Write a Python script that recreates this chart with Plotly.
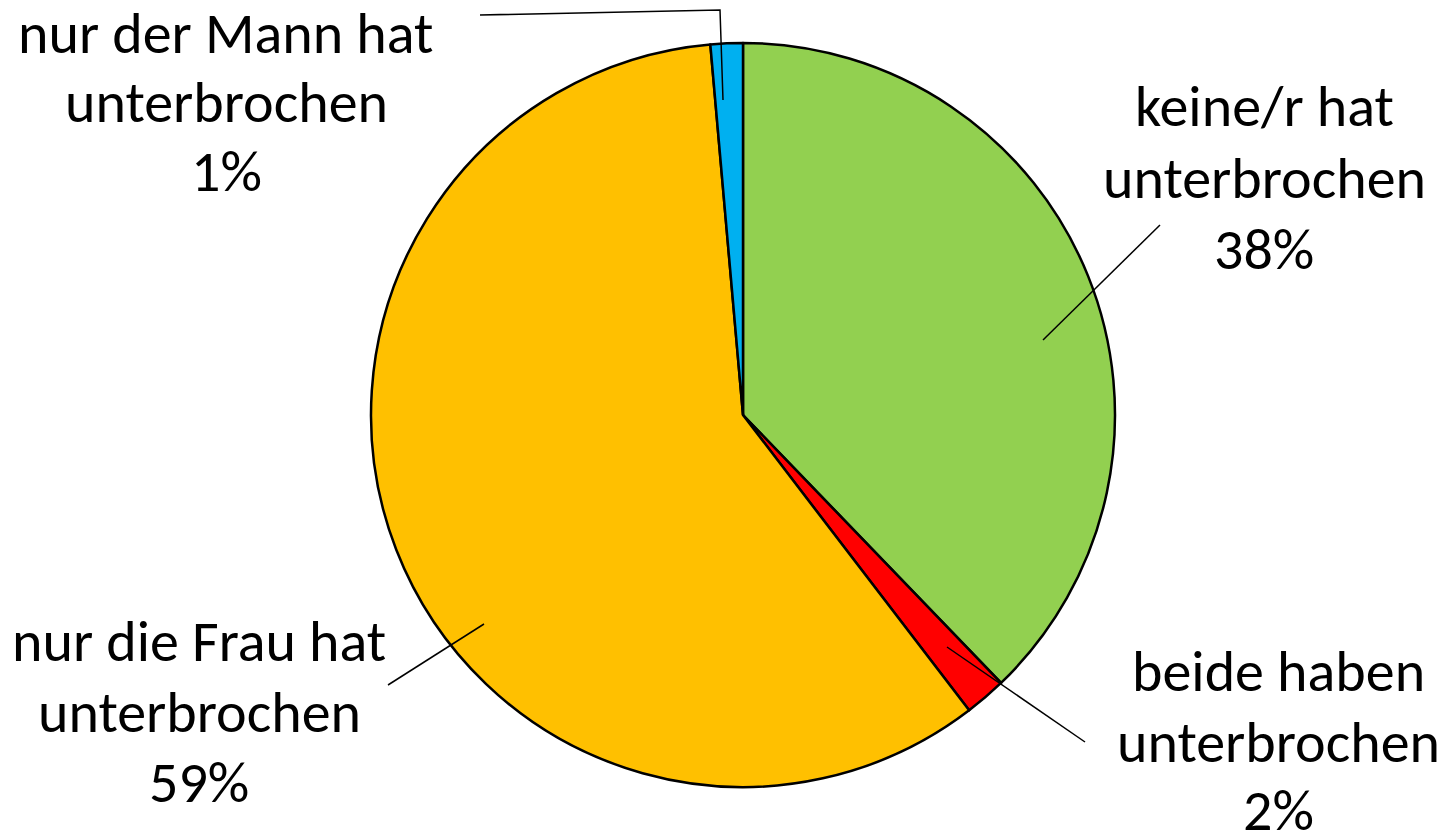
import plotly.graph_objects as go

OFF = 0
W, H = 1446, 836

# Data (clockwise from 12 o'clock)
label_lines = [
    ["keine/r hat", "unterbrochen"],
    ["beide haben", "unterbrochen"],
    ["nur die Frau hat", "unterbrochen"],
    ["nur der Mann hat", "unterbrochen"],
]
values = [37.8, 1.8, 59.0, 1.4]
colors = ["#92D050", "#FF0000", "#FFC000", "#00B0F0"]

# label placement (screen pixels): x centre, line centres
label_x = [1264, 1278, 199, 226]
label_y = [[107, 179, 249], [671, 742, 810], [641, 712, 782], [33, 103, 172]]
leaders = [
    [(1160, 225), (1043, 340)],
    [(1085, 742), (947, 647)],
    [(388, 685), (484, 624)],
    [(480, 15), (720, 10), (723, 100)],
]

cx, cy, r = 743, 415, 372

def px(x):
    return (x - OFF) / W

def py(y):
    return 1 - (y - OFF) / H

fig = go.Figure(go.Pie(
    labels=[" ".join(l) for l in label_lines],
    values=values,
    sort=False,
    direction="clockwise",
    rotation=0,
    marker=dict(colors=colors, line=dict(color="black", width=2.5)),
    textinfo="none",
    hoverinfo="label+percent",
    showlegend=False,
    domain=dict(x=[px(cx - r), px(cx + r)], y=[py(cy + r), py(cy - r)]),
))

total = sum(values)
annotations = []
for lines, v, x, ys in zip(label_lines, values, label_x, label_y):
    texts = lines + [f"{round(v / total * 100)}%"]
    for t, y in zip(texts, ys):
        annotations.append(dict(
            x=px(x), y=py(y), xref="paper", yref="paper",
            text=t, showarrow=False, xanchor="center", yanchor="middle",
            font=dict(family="Carlito, Lato, sans-serif", size=58, color="black"),
        ))

shapes = []
for pts in leaders:
    path = "M " + " L ".join(f"{px(x)} {py(y)}" for x, y in pts)
    shapes.append(dict(type="path", path=path, xref="paper", yref="paper",
                       line=dict(color="black", width=1.5)))

fig.update_layout(
    width=W, height=H,
    margin=dict(l=0, r=0, t=0, b=0),
    paper_bgcolor="white", plot_bgcolor="white",
    annotations=annotations, shapes=shapes,
)

fig.write_html(
    "out.html",
    config={"displayModeBar": False},
    post_script="document.body.style.margin='0';document.body.style.overflow='hidden';",
)
